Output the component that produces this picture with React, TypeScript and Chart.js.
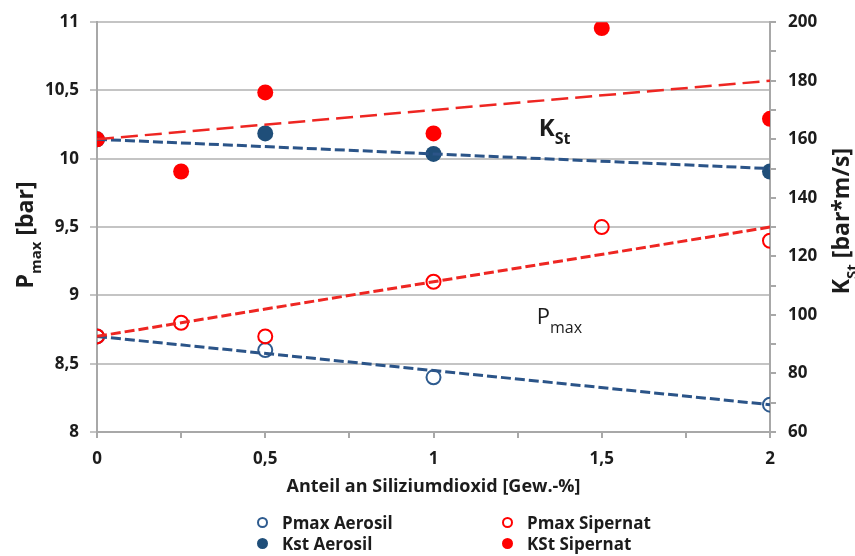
import React, { useEffect, useRef } from "react";
import { Chart, registerables } from "chart.js";

Chart.register(...registerables);

// ---------- data ----------
const xPmaxAerosil = [0, 0.5, 1, 2];
const pmaxAerosil = [8.7, 8.6, 8.4, 8.2];
const xPmaxSipernat = [0, 0.25, 0.5, 1, 1.5, 2];
const pmaxSipernat = [8.7, 8.8, 8.7, 9.1, 9.5, 9.4];
const xKstAerosil = [0, 0.5, 1, 2];
const kstAerosil = [160, 162, 155, 149];
const xKstSipernat = [0, 0.25, 0.5, 1, 1.5, 2];
const kstSipernat = [160, 149, 176, 162, 198, 167];

// trend lines (start / end values at x = 0 and x = 2)
const trendX = [0, 2];
const trendPmaxAerosil = [8.7, 8.2];
const trendPmaxSipernat = [8.7, 9.5];
const trendKstAerosil = [160, 150];
const trendKstSipernat = [160, 180];

// axes
const pmaxRange = [8, 11];
const pmaxStep = 0.5;
const kstRange = [60, 200];
const kstMinorStep = 10;
const kstLabelStep = 20;
const xRange = [0, 2];
const xMinorStep = 0.25;
const xLabelStep = 0.5;

const legendLabels = ["Pmax Aerosil", "Pmax Sipernat", "Kst Aerosil", "KSt Sipernat"];
const xTitle = "Anteil an Siliziumdioxid [Gew.-%]";

// annotation anchors (in data units: x, left axis)
const annKst = { x: 1.313, y: 10.167 };
const annPmax = { x: 1.307, y: 8.79 };

// ---------- styles ----------
const BLUE = "#1f4e79";
const BLUE_LINE = "#2b5488";
const BLUE_OPEN = "#2e5b8f";
const RED = "#ff0000";
const RED_LINE = "#ee2622";
const GRID = "#c4c4c4";
const AXIS = "#a8a8a8";
const TEXT = "#1c1c1c";
const FONT = "'Open Sans', sans-serif";

const fmt = (v: number) => String(v).replace(".", ",");
const pts = (xs: number[], ys: number[]) => xs.map((x, i) => ({ x, y: ys[i] }));

type Part = { t: string; size: number; dy: number; bold: boolean };

function drawParts(ctx: CanvasRenderingContext2D, parts: Part[], startX: number) {
  let cx = startX;
  for (const p of parts) {
    ctx.font = `${p.bold ? "bold " : ""}${p.size}px ${FONT}`;
    ctx.fillText(p.t, cx, p.dy);
    cx += ctx.measureText(p.t).width;
  }
}
function partsWidth(ctx: CanvasRenderingContext2D, parts: Part[]) {
  let w = 0;
  for (const p of parts) {
    ctx.font = `${p.bold ? "bold " : ""}${p.size}px ${FONT}`;
    w += ctx.measureText(p.t).width;
  }
  return w;
}

const textPlugin = {
  id: "customText",
  afterDraw(chart: any) {
    const ctx: CanvasRenderingContext2D = chart.ctx;
    const xs = chart.scales.x;
    const ys = chart.scales.y;
    ctx.save();
    ctx.fillStyle = TEXT;
    ctx.textBaseline = "alphabetic";
    ctx.textAlign = "left";

    // left axis title: P_max [bar]
    const leftParts: Part[] = [
      { t: "P", size: 23, dy: 0, bold: true },
      { t: "max", size: 15, dy: 8, bold: true },
      { t: " [bar]", size: 23, dy: 0, bold: true },
    ];
    const lw = partsWidth(ctx, leftParts);
    const lCenter = 235;
    ctx.save();
    ctx.translate(33, lCenter);
    ctx.rotate(-Math.PI / 2);
    drawParts(ctx, leftParts, -lw / 2);
    ctx.restore();

    // right axis title: K_St [bar*m/s]
    const rightParts: Part[] = [
      { t: "K", size: 23, dy: 0, bold: true },
      { t: "St", size: 15, dy: 8, bold: true },
      { t: " [bar*m/s]", size: 23, dy: 0, bold: true },
    ];
    const rw = partsWidth(ctx, rightParts);
    ctx.save();
    ctx.translate(849, 148 + rw);
    ctx.rotate(-Math.PI / 2);
    drawParts(ctx, rightParts, 0);
    ctx.restore();

    // annotations
    const kx = xs.getPixelForValue(annKst.x);
    const ky = ys.getPixelForValue(annKst.y);
    ctx.save();
    ctx.translate(kx, ky);
    drawParts(ctx, [
      { t: "K", size: 24, dy: 0, bold: true },
      { t: "St", size: 16, dy: 8, bold: true },
    ], 0);
    ctx.restore();

    const px = xs.getPixelForValue(annPmax.x);
    const py = ys.getPixelForValue(annPmax.y);
    ctx.save();
    ctx.translate(px, py);
    drawParts(ctx, [
      { t: "P", size: 22, dy: 0, bold: false },
      { t: "max", size: 16, dy: 9, bold: false },
    ], 0);
    ctx.restore();

    ctx.restore();
  },
};

const tickFont = { family: FONT, size: 17, weight: "bold" as const };

export default function App() {
  const ref = useRef<HTMLCanvasElement>(null);

  useEffect(() => {
    if (!ref.current) return;
    const chart = new Chart(ref.current, {
      type: "scatter",
      data: {
        datasets: [
          // trend lines (drawn on top)
          {
            type: "line",
            label: "trend Kst Sipernat",
            data: pts(trendX, trendKstSipernat),
            yAxisID: "y1",
            borderColor: RED_LINE,
            borderWidth: 2.5,
            borderDash: [17, 7],
            pointRadius: 0,
            fill: false,
            order: 0,
          },
          {
            type: "line",
            label: "trend Kst Aerosil",
            data: pts(trendX, trendKstAerosil),
            yAxisID: "y1",
            borderColor: BLUE_LINE,
            borderWidth: 3,
            borderDash: [10, 4],
            pointRadius: 0,
            fill: false,
            order: 0,
          },
          {
            type: "line",
            label: "trend Pmax Sipernat",
            data: pts(trendX, trendPmaxSipernat),
            yAxisID: "y",
            borderColor: RED_LINE,
            borderWidth: 3,
            borderDash: [10, 4],
            pointRadius: 0,
            fill: false,
            order: 0,
          },
          {
            type: "line",
            label: "trend Pmax Aerosil",
            data: pts(trendX, trendPmaxAerosil),
            yAxisID: "y",
            borderColor: BLUE_LINE,
            borderWidth: 3,
            borderDash: [10, 4],
            pointRadius: 0,
            fill: false,
            order: 0,
          },
          // points
          {
            label: legendLabels[1],
            data: pts(xPmaxSipernat, pmaxSipernat),
            yAxisID: "y",
            pointStyle: "circle",
            pointRadius: 7,
            pointBorderWidth: 2,
            borderColor: RED,
            backgroundColor: "rgba(0,0,0,0)",
            order: 1,
          },
          {
            label: legendLabels[0],
            data: pts(xPmaxAerosil, pmaxAerosil),
            yAxisID: "y",
            pointStyle: "circle",
            pointRadius: 7,
            pointBorderWidth: 2,
            borderColor: BLUE_OPEN,
            backgroundColor: "rgba(0,0,0,0)",
            order: 2,
          },
          {
            label: legendLabels[3],
            data: pts(xKstSipernat, kstSipernat),
            yAxisID: "y1",
            pointStyle: "circle",
            pointRadius: 8,
            pointBorderWidth: 0,
            borderColor: RED,
            backgroundColor: RED,
            order: 1,
          },
          {
            label: legendLabels[2],
            data: pts(xKstAerosil, kstAerosil),
            yAxisID: "y1",
            pointStyle: "circle",
            pointRadius: 8,
            pointBorderWidth: 0,
            borderColor: BLUE,
            backgroundColor: BLUE,
            order: 2,
          },
        ] as any,
      },
      options: {
        responsive: false,
        animation: false,
        events: [],
        layout: { padding: { top: 18, bottom: 56, left: 0, right: 0 } },
        plugins: {
          legend: { display: false },
          tooltip: { enabled: false },
        },
        scales: {
          x: {
            type: "linear",
            min: xRange[0],
            max: xRange[1],
            afterFit: (s: any) => {
              s.height = 68;
            },
            ticks: {
              stepSize: xMinorStep,
              autoSkip: false,
              maxRotation: 0,
              color: TEXT,
              font: tickFont,
              padding: 11,
              callback: (v: any) => {
                const n = Number(v);
                const r = n / xLabelStep;
                return Math.abs(r - Math.round(r)) < 1e-9 ? fmt(n) : "";
              },
            },
            grid: {
              drawOnChartArea: false,
              drawTicks: true,
              tickLength: 6,
              color: AXIS,
              lineWidth: 2,
            },
            border: { color: AXIS, width: 2 },
            title: {
              display: true,
              text: xTitle,
              color: TEXT,
              font: { family: FONT, size: 18, weight: "bold" },
              padding: { top: 0, bottom: 2 },
            },
          },
          y: {
            type: "linear",
            position: "left",
            min: pmaxRange[0],
            max: pmaxRange[1],
            afterFit: (s: any) => {
              s.width = 97;
            },
            ticks: {
              stepSize: pmaxStep,
              autoSkip: false,
              color: TEXT,
              font: tickFont,
              padding: 11,
              callback: (v: any) => fmt(Number(v)),
            },
            grid: {
              color: GRID,
              lineWidth: 2,
              tickLength: 7,
            },
            border: { color: AXIS, width: 2 },
          },
          y1: {
            type: "linear",
            position: "right",
            min: kstRange[0],
            max: kstRange[1],
            afterFit: (s: any) => {
              s.width = 85;
            },
            ticks: {
              stepSize: kstMinorStep,
              autoSkip: false,
              color: TEXT,
              font: tickFont,
              padding: 12,
              callback: (v: any) => (Number(v) % kstLabelStep === 0 ? String(v) : ""),
            },
            grid: {
              drawOnChartArea: false,
              color: AXIS,
              lineWidth: 2,
              tickLength: 6,
            },
            border: { color: AXIS, width: 2 },
          },
        },
      } as any,
      plugins: [textPlugin],
    });
    return () => chart.destroy();
  }, []);

  const legendItems = [
    { label: legendLabels[0], color: BLUE_OPEN, filled: false, left: 257, top: 511 },
    { label: legendLabels[1], color: RED, filled: false, left: 502, top: 511 },
    { label: legendLabels[2], color: BLUE, filled: true, left: 257, top: 532 },
    { label: legendLabels[3], color: RED, filled: true, left: 502, top: 532 },
  ];

  return (
    <div style={{ position: "fixed", left: 0, top: 0, width: 855, height: 556, background: "#fff" }}>
      <canvas ref={ref} width={855} height={556} style={{ display: "block" }} />
      {legendItems.map((it) => (
        <div
          key={it.label}
          style={{
            position: "absolute",
            left: it.left,
            top: it.top,
            height: 22,
            display: "flex",
            alignItems: "center",
            fontFamily: FONT,
            fontWeight: "bold",
            fontSize: 17,
            color: TEXT,
            whiteSpace: "nowrap",
          }}
        >
          <span
            style={{
              display: "inline-block",
              boxSizing: "border-box",
              width: 11,
              height: 11,
              borderRadius: "50%",
              border: `2px solid ${it.color}`,
              background: it.filled ? it.color : "#fff",
              marginRight: 14,
            }}
          />
          <span>{it.label}</span>
        </div>
      ))}
    </div>
  );
}
